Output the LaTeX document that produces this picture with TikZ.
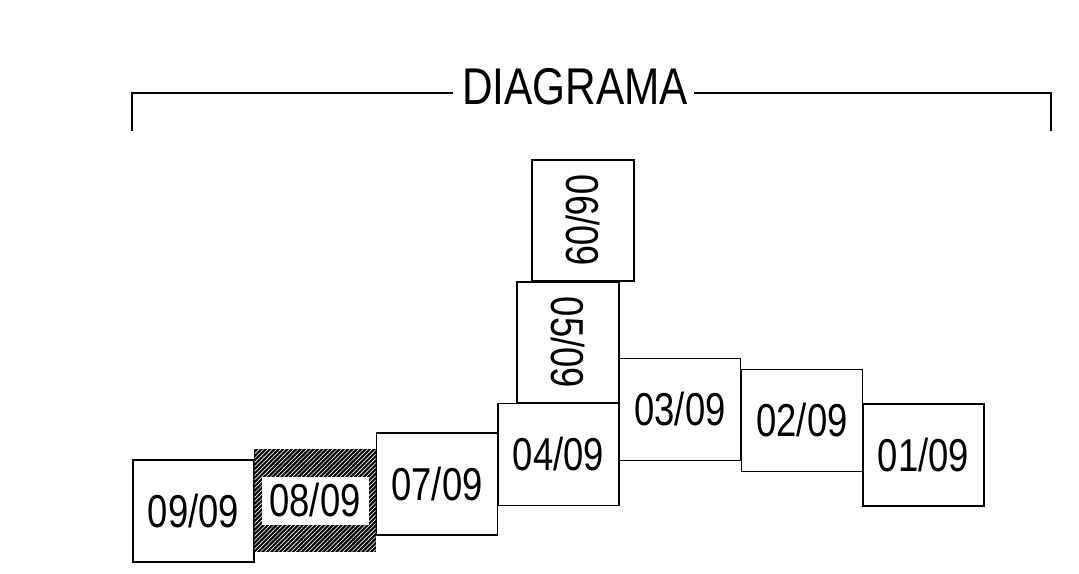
\documentclass[tikz,border=0pt]{standalone}
\usepackage{fontspec}
\usetikzlibrary{patterns.meta}
\newfontfamily\digfont[FakeStretch=0.79]{Liberation Sans}
\newfontfamily\titfont[FakeStretch=0.82]{Liberation Sans}
\tikzset{
  datebox/.style={draw=black, fill=white, line width=1.1pt, inner sep=0pt,
    minimum width=90.75pt, minimum height=76.5pt,
    font=\digfont\fontsize{34.6}{36}\selectfont},
  vbox/.style={datebox, rotate=-90},
  hatchbox/.style={datebox, fill=black,
    postaction={pattern={Lines[angle=45,distance=2.3pt,line width=0.5pt]}, pattern color=white}},
  lblbox/.style={fill=white, inner sep=0pt, minimum width=80.25pt, minimum height=36pt,
    font=\digfont\fontsize{34.6}{36}\selectfont},
  bracket/.style={line width=1.2pt}
}
\begin{document}
\begin{tikzpicture}[x=0.75pt, y=-0.75pt]
\useasboundingbox (0,0) rectangle (1079,574);
% title and bracket
\node[font=\titfont\fontsize{38.75}{40}\selectfont, inner sep=0pt, anchor=base] (title) at (575,105) {DIAGRAMA};
\coordinate (ltop) at (132,93);
\coordinate (lbot) at (132,131);
\coordinate (rbot) at (1051,131);
\draw[bracket] (lbot) |- ([xshift=-6.5pt]title.west |- ltop);
\draw[bracket] (rbot) |- ([xshift=4pt]title.east |- ltop);
% boxes
\node[datebox] (n09) at (193.5,511) {09/09};
\node[hatchbox] (n08) at (315,500.5) {};
\node[lblbox] (n08lbl) at (n08.center) {08/09};
\node[datebox] (n07) at (437,484) {07/09};
\node[datebox] (n04) at (558.5,454.5) {04/09};
\node[vbox] (n05) at (568,342.5) {05/09};
\node[vbox] (n06) at (583,220.5) {06/09};
\node[datebox] (n03) at (680,409.5) {03/09};
\node[datebox] (n02) at (802,420.5) {02/09};
\node[datebox] (n01) at (923.5,455) {01/09};
\end{tikzpicture}
\end{document}
